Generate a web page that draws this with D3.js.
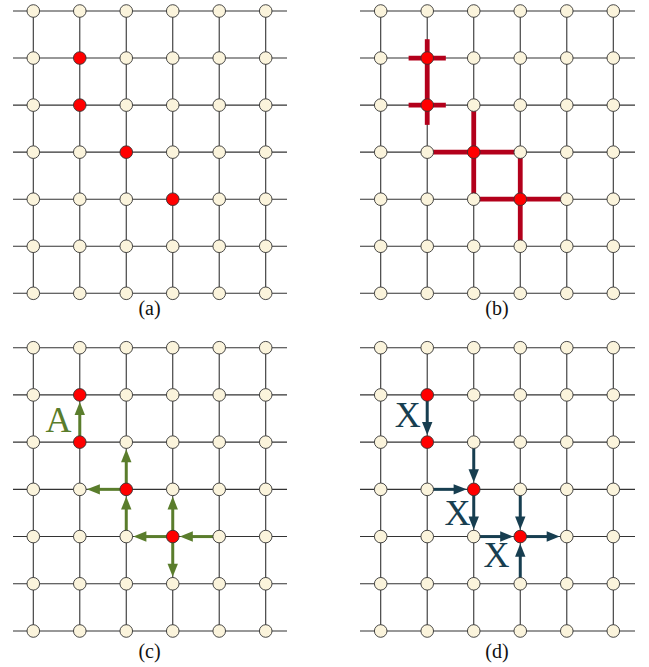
<!DOCTYPE html>
<html>
<head>
<meta charset="utf-8">
<script src="https://cdn.jsdelivr.net/npm/d3@7"></script>
<style>
  html, body { margin: 0; padding: 0; background: #fff; }
  svg { display: block; }
</style>
</head>
<body>
<svg id="chart" width="649" height="667"></svg>
<script>
// ---- data ----
const cols = [0, 1, 2, 3, 4, 5];
const rows = [0, 1, 2, 3, 4, 5, 6];
const panelLabels = ["(a)", "(b)", "(c)", "(d)"];
// highlighted (red) nodes [col, row]
const redNodes = [[1, 1], [1, 2], [2, 3], [3, 4]];
// panel (b): thick red segments in grid units [x1, y1, x2, y2]
const redSegments = [
  [0.6, 1, 1.4, 1],
  [0.6, 2, 1.4, 2],
  [1, 0.6, 1, 2.42],
  [1, 3, 3, 3],
  [2, 2, 2, 4],
  [2, 4, 4, 4],
  [3, 3, 3, 5]
];
// panel (c): arrows [fromCol, fromRow, toCol, toRow]
const arrowsC = [
  [1, 2, 1, 1],
  [2, 3, 2, 2],
  [2, 3, 1, 3],
  [2, 4, 2, 3],
  [3, 4, 2, 4],
  [3, 4, 3, 3],
  [3, 4, 3, 5],
  [4, 4, 3, 4]
];
// panel (d): arrows
const arrowsD = [
  [1, 1, 1, 2],
  [2, 2, 2, 3],
  [1, 3, 2, 3],
  [2, 3, 2, 4],
  [2, 4, 3, 4],
  [3, 3, 3, 4],
  [3, 4, 4, 4],
  [3, 5, 3, 4]
];
// letters in panels: [text, col, baseline row] (grid units)
const lettersC = [["A", 0.54, 1.78]];
const lettersD = [["X", 0.58, 1.68], ["X", 1.65, 3.75], ["X", 2.49, 4.64]];

// ---- layout ----
const svg = d3.select("#chart");
const R = 6.3;
const FONT = "Liberation Serif";
const colors = {
  line: "#333",
  node: "#fbf4dc",
  nodeStroke: "#333",
  red: "#ff0000",
  redLine: "#b3001b",
  green: "#5a7d2c",
  navy: "#173e50"
};

const panels = [
  { x: d3.scaleLinear().domain([0, 5]).range([33.3, 265.7]), y: d3.scaleLinear().domain([0, 6]).range([11, 293.3]), hx: [13, 287], label: panelLabels[0], ly: 315 },
  { x: d3.scaleLinear().domain([0, 5]).range([380.7, 613.3]), y: d3.scaleLinear().domain([0, 6]).range([11, 293.3]), hx: [360, 635], label: panelLabels[1], ly: 315, segments: redSegments },
  { x: d3.scaleLinear().domain([0, 5]).range([33.3, 265.7]), y: d3.scaleLinear().domain([0, 6]).range([347.7, 631]), hx: [13, 287], label: panelLabels[2], ly: 658, arrows: arrowsC, color: colors.green, letters: lettersC },
  { x: d3.scaleLinear().domain([0, 5]).range([380.7, 613.3]), y: d3.scaleLinear().domain([0, 6]).range([347.7, 631]), hx: [360, 635], label: panelLabels[3], ly: 658, arrows: arrowsD, color: colors.navy, letters: lettersD }
];

const isRed = (c, r) => redNodes.some(d => d[0] === c && d[1] === r);

panels.forEach(p => {
  const g = svg.append("g");
  g.selectAll("line.h").data(rows).join("line")
    .attr("x1", p.hx[0]).attr("x2", p.hx[1])
    .attr("y1", d => p.y(d)).attr("y2", d => p.y(d))
    .attr("stroke", colors.line).attr("stroke-width", 1.1);
  g.selectAll("line.v").data(cols).join("line")
    .attr("x1", d => p.x(d)).attr("x2", d => p.x(d))
    .attr("y1", p.y(0)).attr("y2", p.y(rows[rows.length - 1]))
    .attr("stroke", colors.line).attr("stroke-width", 1.1);

  if (p.segments) {
    g.selectAll("line.seg").data(p.segments).join("line")
      .attr("x1", d => p.x(d[0])).attr("y1", d => p.y(d[1]))
      .attr("x2", d => p.x(d[2])).attr("y2", d => p.y(d[3]))
      .attr("stroke", colors.redLine).attr("stroke-width", 4.8);
  }

  if (p.arrows) {
    const headLen = 13, headHalf = 5.2;
    p.arrows.forEach(a => {
      const x1 = p.x(a[0]), y1 = p.y(a[1]);
      const x2 = p.x(a[2]), y2 = p.y(a[3]);
      const dx = x2 - x1, dy = y2 - y1;
      const L = Math.hypot(dx, dy);
      const ux = dx / L, uy = dy / L;
      const tipX = x2 - ux * (R + 0.8), tipY = y2 - uy * (R + 0.8);
      const baseX = tipX - ux * headLen, baseY = tipY - uy * headLen;
      g.append("line")
        .attr("x1", x1).attr("y1", y1)
        .attr("x2", baseX + ux).attr("y2", baseY + uy)
        .attr("stroke", p.color).attr("stroke-width", 3);
      const px = -uy, py = ux;
      g.append("path")
        .attr("d", d3.line()([
          [tipX, tipY],
          [baseX + px * headHalf, baseY + py * headHalf],
          [baseX - px * headHalf, baseY - py * headHalf]
        ]) + "Z")
        .attr("fill", p.color);
    });
  }

  const nodes = [];
  rows.forEach(r => cols.forEach(c => nodes.push([c, r])));
  g.selectAll("circle").data(nodes).join("circle")
    .attr("cx", d => p.x(d[0])).attr("cy", d => p.y(d[1]))
    .attr("r", R)
    .attr("fill", d => isRed(d[0], d[1]) ? colors.red : colors.node)
    .attr("stroke", colors.nodeStroke).attr("stroke-width", 0.9);

  if (p.letters) {
    g.selectAll("text.letter").data(p.letters).join("text")
      .attr("x", d => p.x(d[1])).attr("y", d => p.y(d[2]))
      .attr("text-anchor", "middle")
      .attr("font-size", 36)
      .style("font-family", FONT)
      .attr("fill", p.color)
      .text(d => d[0]);
  }

  g.append("text")
    .attr("x", (p.x(0) + p.x(5)) / 2).attr("y", p.ly)
    .attr("text-anchor", "middle")
    .attr("font-size", 20)
    .style("font-family", FONT)
    .attr("fill", "#111")
    .text(p.label);
});
</script>
</body>
</html>
